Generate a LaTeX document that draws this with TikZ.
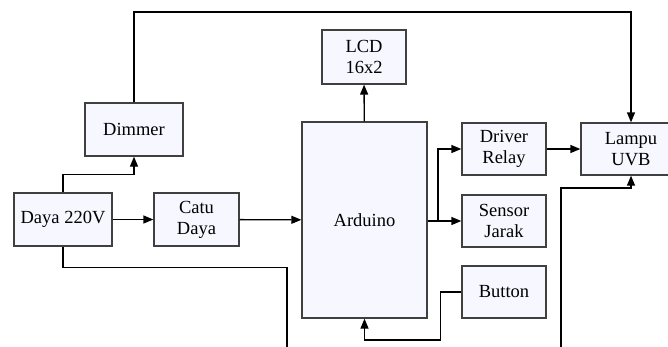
\documentclass[tikz,border=0pt]{standalone}
\usepackage{fontspec}
\setmainfont{Liberation Serif}
\usetikzlibrary{positioning,arrows.meta}
\begin{document}
\begin{tikzpicture}[x=1pt, y=-1pt, line width=1.3pt, >={Triangle[length=10pt,width=8pt]},
    main/.style = {draw=black!75, fill=blue!3!white, align=center, inner sep=0pt,
      font=\fontsize{18.5}{21}\selectfont}]
    \useasboundingbox (0,0) rectangle (668,346);
    \clip (0,0) rectangle (668,346);
    \node[main, minimum width=84pt, minimum height=54pt] (lcd) at (364,57) {LCD\\16x2};
    \node[main, minimum width=98pt, minimum height=53pt] (dimmer) at (134,129.5) {Dimmer};
    \node[main, minimum width=98pt, minimum height=53pt] (daya) at (63,219.5) {Daya 220V};
    \node[main, minimum width=85pt, minimum height=53pt] (catu) at (196.5,219.5) {Catu\\Daya};
    \node[main, minimum width=125pt, minimum height=196pt] (arduino) at (364.5,220) {Arduino};
    \node[main, minimum width=84pt, minimum height=52pt] (relay) at (504,149) {Driver\\Relay};
    \node[main, minimum width=84pt, minimum height=52pt] (sensor) at (504,221) {Sensor\\Jarak};
    \node[main, minimum width=84pt, minimum height=52pt] (button) at (504,292) {Button};
    \node[main, minimum width=100pt, minimum height=52pt] (lampu) at (631,149) {Lampu\\UVB};
    \coordinate (top) at (0,12);
    \coordinate (split) at (438,221);
    \coordinate (bot1) at (287,350);
    \coordinate (bot2) at (561,350);
    \draw[->] (daya) -- (catu);
    \draw[->] (catu) -- (arduino);
    \draw[->] (arduino) -- (lcd);
    \draw[->] (daya.north) -- ++(0,-18) -| (dimmer.south);
    \draw[->] (dimmer.north) -- (dimmer |- top) -| (lampu.north);
    \draw (arduino.east |- split) -- (split);
    \draw[->] (split) |- (relay.west);
    \draw[->] (split) -- (sensor.west);
    \draw[->] (relay) -- (lampu);
    \draw[->] (button.west) -- ++(-21,0) -- ++(0,48) -| (arduino.south);
    \draw (daya.south) -- ++(0,21) -| (bot1);
    \draw[->] (bot2) -- ++(0,-162) -| (lampu.south);
\end{tikzpicture}
\end{document}
